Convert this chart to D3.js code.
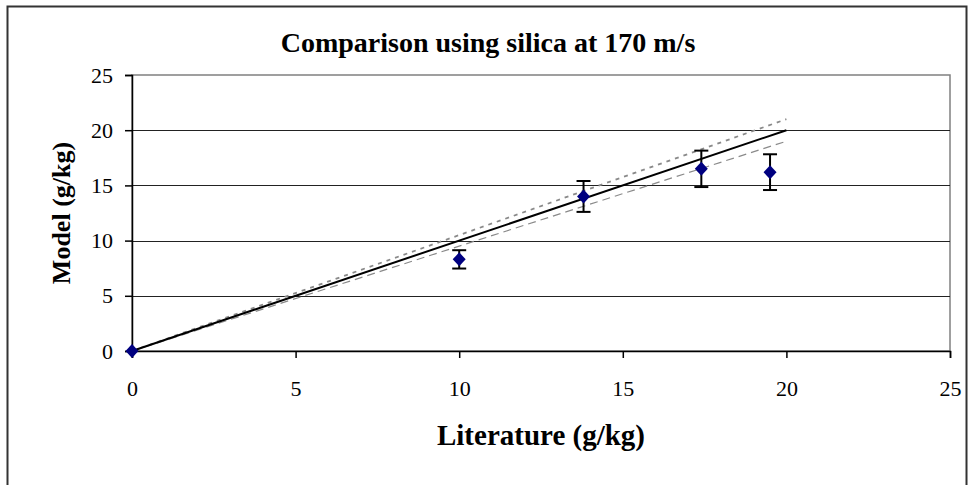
<!DOCTYPE html>
<html>
<head>
<meta charset="utf-8">
<script src="https://cdn.jsdelivr.net/npm/d3@7"></script>
<style>
  html, body { margin: 0; padding: 0; background: #fff; }
  svg { display: block; }
  text { font-family: "Liberation Serif", "Times New Roman", serif; fill: #000; }
</style>
</head>
<body>
<svg id="chart" width="973" height="485"></svg>
<script>
// Measured points: literature value vs model value, with error half-widths
const literature = [0, 10, 13.8, 17.4, 19.5];
const model = [0, 8.3, 14.0, 16.5, 16.2];
const modelError = [0, 0.83, 1.4, 1.65, 1.62];

// Reference lines: parity line and the ±5 % band around it
const refX = [0, 20];
const parityY = [0, 20];
const upperY = [0, 21];
const lowerY = [0, 19];

const xTicks = [0, 5, 10, 15, 20, 25];
const yTicks = [0, 5, 10, 15, 20, 25];

const titleText = "Comparison using silica at 170 m/s";
const xTitle = "Literature (g/kg)";
const yTitle = "Model (g/kg)";

const svg = d3.select("#chart");
const plot = { left: 132, right: 950, top: 75, bottom: 351 };

// outer chart frame
svg.append("rect")
  .attr("x", 7.5).attr("y", 6.5)
  .attr("width", 959).attr("height", 490)
  .attr("fill", "#fff").attr("stroke", "#333").attr("stroke-width", 2);

const x = d3.scaleLinear().domain([0, 25]).range([plot.left, plot.right]);
const y = d3.scaleLinear().domain([0, 25]).range([plot.bottom, plot.top]);

// plot area border
svg.append("rect")
  .attr("x", plot.left).attr("y", plot.top)
  .attr("width", plot.right - plot.left).attr("height", plot.bottom - plot.top)
  .attr("fill", "none").attr("stroke", "#808080").attr("stroke-width", 1.5);

// horizontal gridlines
svg.append("g").selectAll("line")
  .data(yTicks.filter(d => d > 0 && d < 25))
  .join("line")
  .attr("x1", plot.left).attr("x2", plot.right)
  .attr("y1", d => Math.round(y(d)) + 0.5).attr("y2", d => Math.round(y(d)) + 0.5)
  .attr("stroke", "#222").attr("stroke-width", 1);

// x axis
const xAxis = svg.append("g")
  .attr("transform", `translate(0,${plot.bottom})`)
  .call(d3.axisBottom(x).tickValues(xTicks).tickSize(7).tickPadding(22).tickFormat(d3.format("d")));
xAxis.select(".domain").attr("stroke", "#000").attr("stroke-width", 1.5);
xAxis.selectAll(".tick line").attr("stroke", "#000").attr("stroke-width", 1.5);
xAxis.selectAll(".tick text").style("font-size", "22px").attr("font-family", null);

// y axis
const yAxis = svg.append("g")
  .attr("transform", `translate(${plot.left},0)`)
  .call(d3.axisLeft(y).tickValues(yTicks).tickSize(7).tickPadding(12).tickFormat(d3.format("d")));
yAxis.select(".domain").attr("stroke", "#000").attr("stroke-width", 1.5);
yAxis.selectAll(".tick line").attr("stroke", "#000").attr("stroke-width", 1.5);
yAxis.selectAll(".tick text").style("font-size", "22px").attr("font-family", null);

// reference lines
const line = d3.line().x(d => x(d[0])).y(d => y(d[1]));
svg.append("path")
  .attr("d", line(refX.map((v, i) => [v, upperY[i]])))
  .attr("fill", "none").attr("stroke", "#8a8a8a").attr("stroke-width", 1.8)
  .attr("stroke-dasharray", "4,5");
svg.append("path")
  .attr("d", line(refX.map((v, i) => [v, lowerY[i]])))
  .attr("fill", "none").attr("stroke", "#8a8a8a").attr("stroke-width", 1.2)
  .attr("stroke-dasharray", "8,5");
svg.append("path")
  .attr("d", line(refX.map((v, i) => [v, parityY[i]])))
  .attr("fill", "none").attr("stroke", "#000").attr("stroke-width", 2);

// error bars
const pts = literature.map((v, i) => ({ x: v, y: model[i], e: modelError[i] }));
const eb = svg.append("g").attr("stroke", "#000").attr("stroke-width", 2);
pts.filter(d => d.e > 0).forEach(d => {
  const cx = x(d.x);
  eb.append("line").attr("x1", cx).attr("x2", cx).attr("y1", y(d.y - d.e)).attr("y2", y(d.y + d.e));
  eb.append("line").attr("x1", cx - 7).attr("x2", cx + 7).attr("y1", y(d.y + d.e)).attr("y2", y(d.y + d.e));
  eb.append("line").attr("x1", cx - 7).attr("x2", cx + 7).attr("y1", y(d.y - d.e)).attr("y2", y(d.y - d.e));
});

// diamond markers
svg.append("g").selectAll("path")
  .data(pts)
  .join("path")
  .attr("d", d => {
    const cx = x(d.x), cy = y(d.y);
    return `M${cx},${cy - 7}L${cx + 6.5},${cy}L${cx},${cy + 7}L${cx - 6.5},${cy}Z`;
  })
  .attr("fill", "#000080");

// titles
svg.append("text")
  .attr("x", 488).attr("y", 52)
  .attr("text-anchor", "middle")
  .style("font-size", "28px").style("font-weight", "bold")
  .text(titleText);

svg.append("text")
  .attr("x", (plot.left + plot.right) / 2).attr("y", 445)
  .attr("text-anchor", "middle")
  .style("font-size", "29px").style("font-weight", "bold")
  .text(xTitle);

svg.append("text")
  .attr("transform", `translate(70,${(plot.top + plot.bottom) / 2}) rotate(-90)`)
  .attr("text-anchor", "middle")
  .style("font-size", "26px").style("font-weight", "bold")
  .text(yTitle);
</script>
</body>
</html>
